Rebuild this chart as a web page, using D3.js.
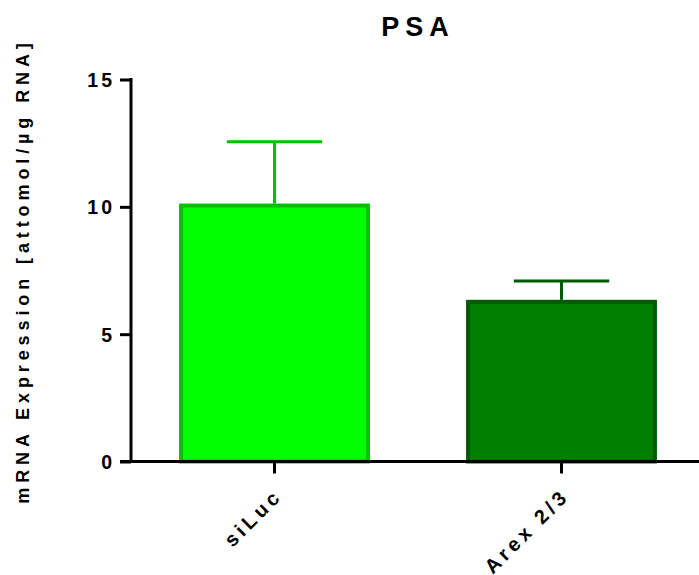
<!DOCTYPE html>
<html>
<head>
<meta charset="utf-8">
<script src="https://cdn.jsdelivr.net/npm/d3@7"></script>
<style>
    body { margin: 0; background: #fff; }
    text { font-family: "Liberation Sans", Arial, sans-serif; font-weight: bold; fill: #000; }
</style>
</head>
<body>
<div id="chart"></div>
<script>
// data
const categories = ["siLuc", "Arex 2/3"];
const means = [10.05, 6.27];
const errUpper = [12.56, 7.09];
const fills = ["#00ff00", "#008000"];
const strokes = ["#00c000", "#005a00"];
const yTicks = [0, 5, 10, 15];
const title = "PSA";
const yLabel = "mRNA Expression [attomol/µg RNA]";

const width = 699, height = 575;

const svg = d3.select("#chart").append("svg")
    .attr("width", width)
    .attr("height", height);

const y = d3.scaleLinear().domain([0, 15]).range([461.5, 79.5]);
const x = d3.scaleBand()
    .domain(categories)
    .range([131, 705])
    .paddingInner(0.335)
    .paddingOuter(0.1675);

// bars
svg.selectAll("rect.bar")
    .data(categories)
    .enter()
    .append("rect")
    .attr("class", "bar")
    .attr("x", d => x(d) + 2)
    .attr("width", x.bandwidth() - 4)
    .attr("y", (d, i) => y(means[i]))
    .attr("height", (d, i) => y(0) - y(means[i]))
    .attr("fill", (d, i) => fills[i])
    .attr("stroke", (d, i) => strokes[i])
    .attr("stroke-width", 4);

// error bars (upper only)
categories.forEach(function (c, i) {
    let cx = x(c) + x.bandwidth() / 2;
    let half = x.bandwidth() / 4;
    svg.append("line")
        .attr("x1", cx).attr("x2", cx)
        .attr("y1", y(means[i]) - 2).attr("y2", y(errUpper[i]))
        .attr("stroke", strokes[i]).attr("stroke-width", 3);
    svg.append("line")
        .attr("x1", cx - half).attr("x2", cx + half)
        .attr("y1", y(errUpper[i])).attr("y2", y(errUpper[i]))
        .attr("stroke", strokes[i]).attr("stroke-width", 3);
});

// y axis
const yAxis = d3.axisLeft(y).tickValues(yTicks).tickSize(11).tickPadding(5).tickSizeOuter(0);
const gy = svg.append("g").attr("transform", "translate(131,0)").call(yAxis);
gy.select(".domain").attr("stroke", "#000").attr("stroke-width", 3)
    .attr("d", "M0," + (y(15) - 1.5) + "V" + (y(0) + 1.5));
gy.selectAll(".tick line").attr("stroke", "#000").attr("stroke-width", 3);
gy.selectAll(".tick text")
    .style("font-size", "19.5px")
    .style("letter-spacing", "3px")
    .attr("dy", "0.36em");

// x axis
const xAxis = d3.axisBottom(x).tickSize(12).tickSizeOuter(0).tickFormat("");
const gx = svg.append("g").attr("transform", "translate(0," + y(0) + ")").call(xAxis);
gx.select(".domain").attr("stroke", "#000").attr("stroke-width", 3)
    .attr("d", "M120,0H705");
gx.selectAll(".tick line").attr("stroke", "#000").attr("stroke-width", 3);

// rotated category labels
svg.selectAll("text.xlab")
    .data(categories)
    .enter()
    .append("text")
    .attr("class", "xlab")
    .attr("text-anchor", "end")
    .style("font-size", "20px")
    .style("letter-spacing", "4px")
    .attr("transform", d => "translate(" + (x(d) + x.bandwidth() / 2 + 9) + "," + 497 + ") rotate(-45)")
    .text(d => d);

// title
svg.append("text")
    .attr("x", 418)
    .attr("y", 36)
    .attr("text-anchor", "middle")
    .style("font-size", "27px")
    .style("letter-spacing", "6px")
    .text(title);

// y label
svg.append("text")
    .attr("transform", "translate(29,271) rotate(-90)")
    .attr("text-anchor", "middle")
    .style("font-size", "18px")
    .style("letter-spacing", "4.9px")
    .text(yLabel);
</script>
</body>
</html>
